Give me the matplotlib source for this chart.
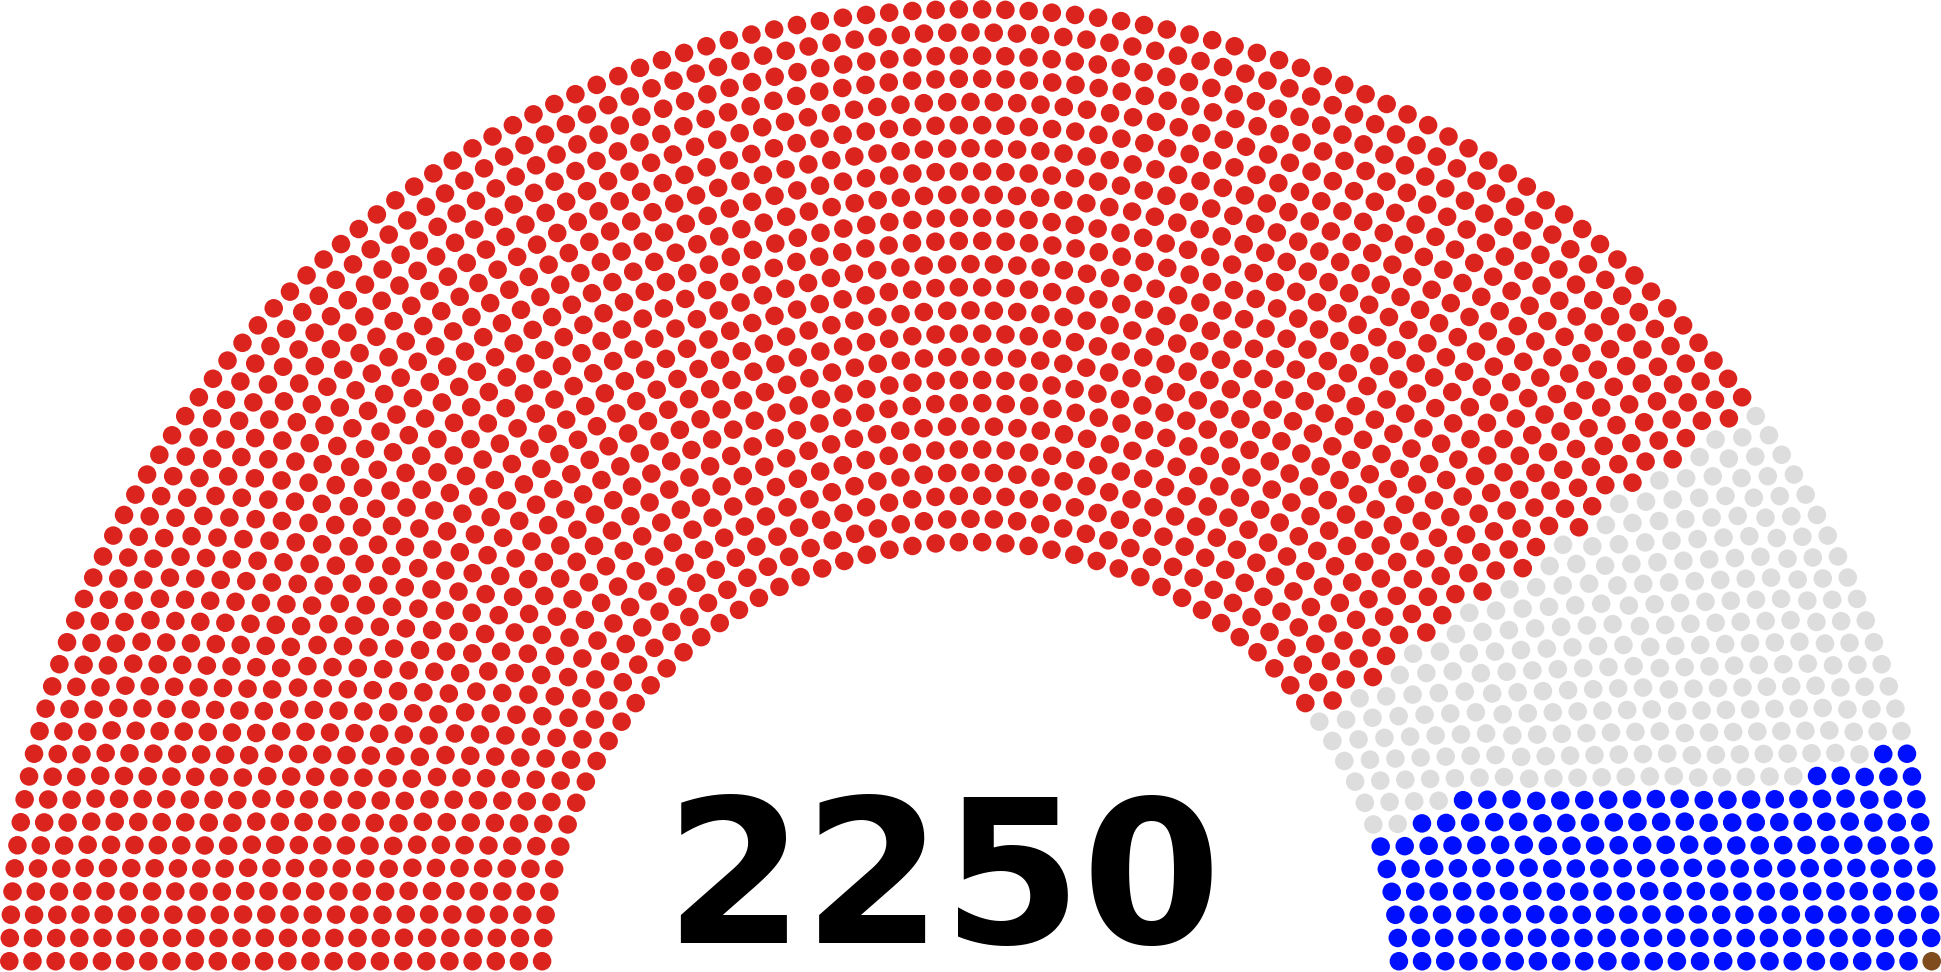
import math
import matplotlib
matplotlib.use("Agg")
import matplotlib.pyplot as plt
from matplotlib.patches import Circle
from matplotlib.collections import PatchCollection

# ---- data ----
total_seats = 2250
party_names = ["Red party", "Non-party", "Blue party", "Brown party"]
party_seats = [1800, 257, 192, 1]
party_colors = ["#DC241F", "#DDDDDD", "#0010FF", "#7F4C1E"]
# seats of the right-hand block (blue + brown) in each row, inner -> outer
right_block_per_row = [6, 6, 7, 7] + [8] * 15 + [9, 9, 9] + [10, 10]
label_text = "2250"

# ---- layout (parliament arch) ----
def row_total(rows):
    return sum(int(math.pi / (2 * math.asin(2.0 / (3.0 * rows + 4.0 * i - 2.0))))
               for i in range(1, rows + 1))

rows = 1
while row_total(rows) < total_seats:
    rows += 1
T = row_total(rows)
rad = 0.4 / rows

seats = []  # (angle, ring, j, x, y)
count = 0
for i in range(1, rows + 1):
    R = (3.0 * rows + 4.0 * i - 2.0) / (4.0 * rows)
    if i < rows:
        J = int(float(total_seats) / T * math.pi / (2 * math.asin(2.0 / (3.0 * rows + 4.0 * i - 2.0))))
    else:
        J = total_seats - count
    off = math.sin(rad / R)
    for j in range(J):
        if J == 1:
            a = math.pi / 2
        else:
            a = j * (math.pi - 2.0 * off) / (J - 1.0) + off
        seats.append((a, i - 1, j, R * math.cos(a), R * math.sin(a)))
    count += J

seats.sort(key=lambda s: -s[0])
n_red = party_seats[0]
colors = {}
for idx, s in enumerate(seats):
    key = (s[1], s[2])
    if idx < n_red:
        colors[key] = party_colors[0]
    else:
        colors[key] = party_colors[1]
# right-hand block: smallest-angle seats of each row
for s in seats:
    ring, j = s[1], s[2]
    if j < right_block_per_row[ring]:
        colors[(ring, j)] = party_colors[2]
colors[(rows - 1, 0)] = party_colors[3]

# ---- draw ----
W, H = 1941, 972
fig = plt.figure(figsize=(W / 100, H / 100), dpi=100)
ax = fig.add_axes([0, 0, 1, 1])
scale = 555.9  # px per unit
half_w = (W / 2) / scale
ax.set_xlim(-half_w, half_w)
top = 970.5 / scale
ax.set_ylim(top - H / scale, top)
ax.set_aspect("equal")
ax.axis("off")

patches = []
fc = []
for s in seats:
    patches.append(Circle((s[3], s[4]), rad))
    fc.append(colors[(s[1], s[2])])
pc = PatchCollection(patches, facecolors=fc, edgecolors="none", antialiased=True)
ax.add_collection(pc)

ax.text(-0.05, 0.05, label_text, ha="center", va="baseline",
        fontsize=36 * scale / 100 * 72 / 100, fontweight="bold",
        family="DejaVu Sans", color="black")

fig.savefig("out.png", dpi=100, facecolor="white")
